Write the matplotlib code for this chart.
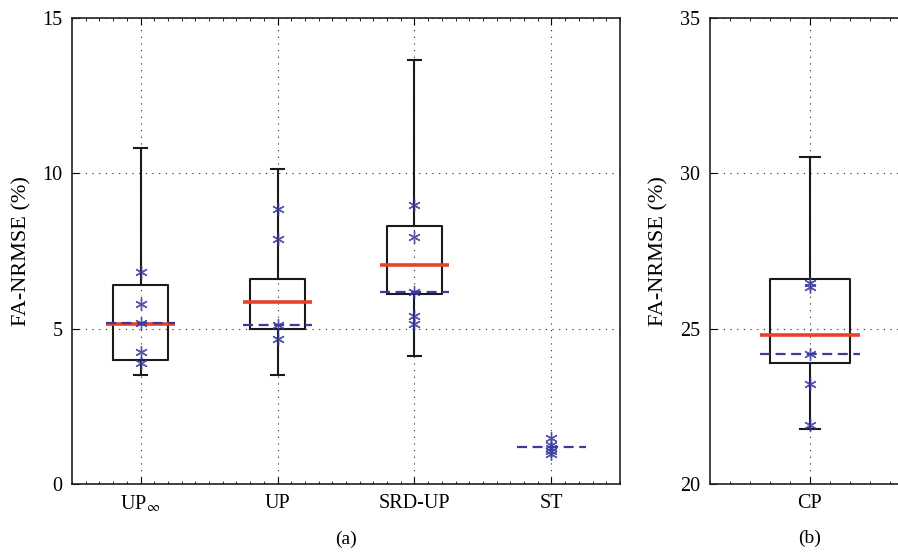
import matplotlib
matplotlib.use('Agg')
import matplotlib.pyplot as plt
from matplotlib.ticker import MultipleLocator

plt.rcParams['font.family'] = ['Liberation Serif', 'DejaVu Serif']
plt.rcParams['mathtext.fontset'] = 'stix'

# panel (a) groups
groups_a = ['UP$_{\\infty}$', 'UP', 'SRD-UP', 'ST']
whis_lo_a = [3.51, 3.51, 4.13, None]
q1_a = [3.98, 4.99, 6.12, None]
med_a = [5.15, 5.87, 7.04, None]
q3_a = [6.40, 6.61, 8.31, None]
whis_hi_a = [10.81, 10.14, 13.65, None]
mean_a = [5.19, 5.11, 6.17, 1.18]
points_a = [
    [6.83, 5.81, 5.19, 4.26, 3.90],
    [8.84, 7.88, 5.11, 4.67],
    [8.97, 7.95, 6.17, 5.41, 5.15],
    [1.47, 1.25, 1.16, 1.05, 0.95],
]

# panel (b) group
groups_b = ['CP']
whis_lo_b = [21.77]
q1_b = [23.88]
med_b = [24.80]
q3_b = [26.59]
whis_hi_b = [30.51]
mean_b = [24.18]
points_b = [[26.46, 26.33, 24.18, 23.22, 21.90]]

RED = '#e8432a'
BLUE = '#3b3b9f'


def draw_panel(ax, labels, wlo, q1, med, q3, whi, means, points):
    pos = list(range(1, len(labels) + 1))
    stats, stat_pos = [], []
    for i in range(len(labels)):
        if med[i] is None:
            continue
        stats.append(dict(whislo=wlo[i], q1=q1[i], med=med[i], q3=q3[i],
                          whishi=whi[i], fliers=[]))
        stat_pos.append(pos[i])
    ax.bxp(stats, positions=stat_pos, widths=0.4, showfliers=False,
           boxprops=dict(color='#1a1a1a', lw=1.5),
           whiskerprops=dict(color='#1a1a1a', lw=1.5),
           capprops=dict(color='#1a1a1a', lw=1.5),
           capwidths=0.1,
           medianprops=dict(color='none'))
    for i, p in enumerate(pos):
        if med[i] is not None:
            ax.hlines(med[i], p - 0.25, p + 0.25, color=RED, lw=2.6, zorder=4)
        ax.hlines(means[i], p - 0.25, p + 0.25, color=BLUE, lw=1.6,
                  linestyles=(0, (4.5, 2.5)), zorder=5)
        ax.plot([p] * len(points[i]), points[i], ls='none',
                marker=(6, 2, 0), ms=9, mew=1.0, color=BLUE, alpha=0.85,
                zorder=6)
    ax.set_xticks(pos)
    ax.set_xticklabels(labels)
    ax.set_xlim(0.5, len(labels) + 0.5)
    ax.xaxis.set_minor_locator(MultipleLocator(0.1))
    ax.tick_params(which='both', direction='in', top=True, right=False,
                   labelsize=14.5, pad=7)
    ax.tick_params(which='major', length=5)
    ax.tick_params(which='minor', length=2.5, axis='x')
    ax.grid(True, which='major', ls=(0, (1, 5)), color='#222222', lw=0.8)
    for s in ax.spines.values():
        s.set_linewidth(1.2)
        s.set_color('#222222')
    ax.set_ylabel('FA-NRMSE (%)', fontsize=16, labelpad=8)


fig = plt.figure(figsize=(8.98, 5.56), dpi=100)
ax1 = fig.add_axes([0.0802, 0.1295, 0.6102, 0.8381])
ax2 = fig.add_axes([0.7903, 0.1295, 0.2227, 0.8381])

draw_panel(ax1, groups_a, whis_lo_a, q1_a, med_a, q3_a, whis_hi_a, mean_a, points_a)
ax1.set_ylim(0, 15)
ax1.set_yticks([0, 5, 10, 15])
ax1.set_xlabel('(a)', fontsize=14, labelpad=12)

draw_panel(ax2, groups_b, whis_lo_b, q1_b, med_b, q3_b, whis_hi_b, mean_b, points_b)
ax2.set_ylim(20, 35)
ax2.set_yticks([20, 25, 30, 35])
ax2.set_xlabel('(b)', fontsize=14, labelpad=12)

fig.savefig('out.png', dpi=100)
